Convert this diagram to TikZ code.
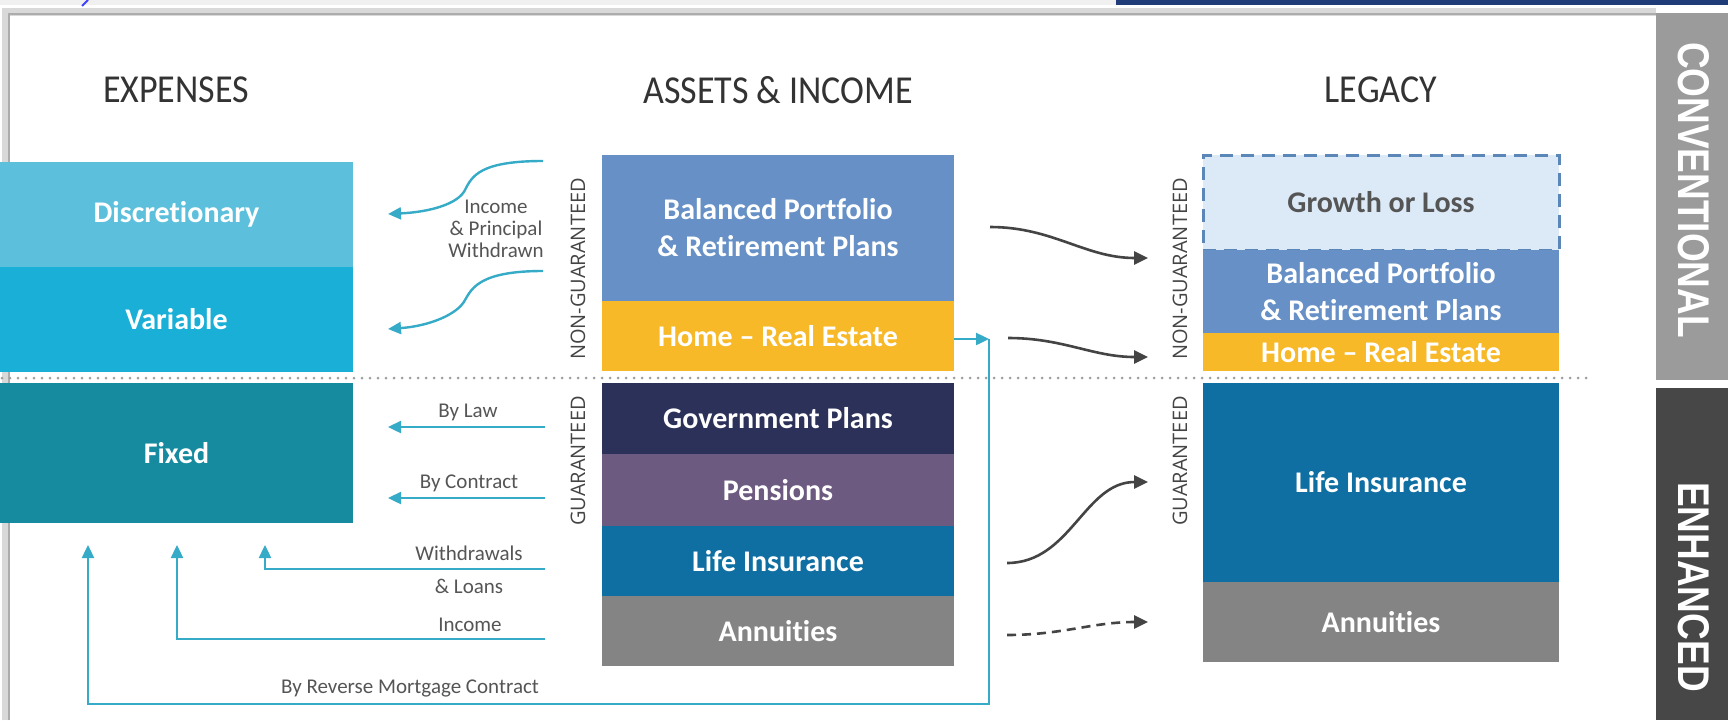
\documentclass[tikz,border=0pt]{standalone}
\usepackage{fontspec}
\setmainfont{Carlito}[Ligatures=NoCommon]
\newfontfamily\vlabfont{Open Sans}
\newfontfamily\tabfont{Liberation Sans}
\usetikzlibrary{arrows.meta}
\definecolor{cDisc}{HTML}{5CC0DC}
\definecolor{cVar}{HTML}{1AAFD7}
\definecolor{cFix}{HTML}{168A9F}
\definecolor{cBal}{HTML}{6690C6}
\definecolor{cHome}{HTML}{F7B928}
\definecolor{cGov}{HTML}{2C3159}
\definecolor{cPen}{HTML}{6D5A80}
\definecolor{cLife}{HTML}{0F6FA2}
\definecolor{cAnn}{HTML}{848484}
\definecolor{cGrow}{HTML}{DCEAF8}
\definecolor{cGrowLine}{HTML}{5B87B8}
\definecolor{cCyan}{HTML}{35ABC8}
\definecolor{cDark}{HTML}{444444}
\definecolor{cHead}{HTML}{333333}
\definecolor{cLab}{HTML}{555555}
\definecolor{cNavy}{HTML}{1F3C78}
\definecolor{cTabA}{HTML}{9B9B9B}
\definecolor{cTabB}{HTML}{474747}
\newcommand\boxfnt{\fontsize{30}{37}\selectfont\bfseries}
\newcommand\headfnt{\fontsize{36}{40}\selectfont}
\newcommand\labfnt{\fontsize{21}{22}\selectfont}
\tikzset{
  blk/.style={anchor=north west, inner sep=0pt, outer sep=0pt, text=white, font=\boxfnt, align=center},
  head/.style={text=cHead, font=\headfnt},
  lab/.style={text=cLab, font=\labfnt, align=center, inner sep=0pt},
  vlab/.style={text=cDark, font=\vlabfont\fontsize{20}{22}\selectfont, rotate=90, inner sep=0pt},
  tabtext/.style={text=white, font=\tabfont\bfseries\fontsize{37}{40}\selectfont, rotate=-90, inner sep=0pt},
  cyarrow/.style={draw=cCyan, line width=2.4pt, -{Triangle[length=13pt,width=12pt]}},
  dkarrow/.style={draw=cDark, line width=2.6pt, -{Triangle[length=14pt,width=13pt]}},
}
\begin{document}
\begin{tikzpicture}[x=1pt,y=-1pt]
\useasboundingbox (0,0) rectangle (1728,720);
\fill[white] (0,0) rectangle (1728,720);
% top strips and frame
\fill[gray!12] (0,0) rectangle (1116,5);
\fill[cNavy] (1116,0) rectangle (1728,5);
\draw[gray!30, line width=8pt] (6,720) -- (6,12) -- (1656,12);
\draw[gray!65, line width=2.5pt] (9,720) -- (9,14) -- (1656,14);
\draw[blue!75, line width=2pt] (82,6) -- (88,0);
% tabs
\fill[cTabA] (1656,13) rectangle (1728,380);
\fill[cTabB] (1656,388) rectangle (1728,720);
\node[tabtext] (tconv) at (1694,190) {\scalebox{1}[1.2]{CONVENTIONAL}};
\node[tabtext] (tenh) at (1694,587) {\scalebox{1}[1.2]{ENHANCED}};
% headers
\node[head] (hexp) at (176,90) {\scalebox{1}[1.1]{EXPENSES}};
\node[head] (hass) at (778,90) {\scalebox{1}[1.1]{ASSETS \& INCOME}};
\node[head] (hleg) at (1381,90) {\scalebox{1}[1.1]{LEGACY}};
% expenses
\node[blk, fill=cDisc, minimum width=353pt, minimum height=105pt] (disc) at (0,162) {Discretionary};
\node[blk, fill=cVar, minimum width=353pt, minimum height=105pt] (var) at (0,267) {Variable};
\node[blk, fill=cFix, minimum width=353pt, minimum height=140pt] (fix) at (0,383) {Fixed};
% assets
\node[blk, fill=cBal, minimum width=352pt, minimum height=146pt] (abal) at (602,155) {Balanced Portfolio\\\& Retirement Plans};
\node[blk, fill=cHome, minimum width=352pt, minimum height=70pt] (ahome) at (602,301) {Home -- Real Estate};
\node[blk, fill=cGov, minimum width=352pt, minimum height=71pt] (agov) at (602,383) {Government Plans};
\node[blk, fill=cPen, minimum width=352pt, minimum height=72pt] (apen) at (602,454) {Pensions};
\node[blk, fill=cLife, minimum width=352pt, minimum height=70pt] (alife) at (602,526) {Life Insurance};
\node[blk, fill=cAnn, minimum width=352pt, minimum height=70pt] (aann) at (602,596) {Annuities};
% legacy
\node[blk, fill=cGrow, draw=cGrowLine, dash pattern=on 13pt off 8pt, line width=3pt, text=cLab, minimum width=356pt, minimum height=95pt] (lgrow) at (1203,155) {Growth or Loss};
\node[blk, fill=cBal, minimum width=356pt, minimum height=83pt] (lbal) at (1203,250) {Balanced Portfolio\\\& Retirement Plans};
\node[blk, fill=cHome, minimum width=356pt, minimum height=38pt] (lhome) at (1203,333) {Home -- Real Estate};
\node[blk, fill=cLife, minimum width=356pt, minimum height=199pt] (llife) at (1203,383) {Life Insurance};
\node[blk, fill=cAnn, minimum width=356pt, minimum height=80pt] (lann) at (1203,582) {Annuities};
% divider
\draw[gray!75, line width=3pt, line cap=round, dash pattern=on 0pt off 8pt] (2,378) -- (1592,378);
% vertical labels
\node[vlab] (vng1) at (578,269) {NON-GUARANTEED};
\node[vlab] (vg1) at (578,461) {GUARANTEED};
\node[vlab] (vng2) at (1180,269) {NON-GUARANTEED};
\node[vlab] (vg2) at (1180,461) {GUARANTEED};
% left connectors
\coordinate (c1s) at (543,161); \coordinate (c1e) at (388,214);
\coordinate (c2s) at (543,271); \coordinate (c2e) at (388,329);
\draw[cyarrow] (c1s) .. controls (480,161) and (472,176) .. (465,190) .. controls (458,204) and (430,212) .. (c1e);
\draw[cyarrow] (c2s) .. controls (480,271) and (472,288) .. (465,300) .. controls (458,314) and (430,326) .. (c2e);
\node[lab] (lincome) at (496,229) {Income\\\& Principal\\Withdrawn};
\coordinate (lawS) at (545,427); \coordinate (lawE) at (388,427);
\draw[cyarrow] (lawS) -- (lawE);
\node[lab] (llaw) at (468,412) {By Law};
\coordinate (conS) at (545,498); \coordinate (conE) at (388,498);
\draw[cyarrow] (conS) -- (conE);
\node[lab] (lcon) at (469,483) {By Contract};
\coordinate (wdS) at (545,569); \coordinate (wdE) at (265,545);
\draw[cyarrow] (wdS) -| (wdE);
\node[lab] (lwd1) at (469,553) {Withdrawals};
\node[lab] (lwd2) at (469,586) {\& Loans};
\coordinate (inS) at (545,639); \coordinate (inE) at (177,545);
\draw[cyarrow] (inS) -| (inE);
\node[lab] (linc) at (470,625) {Income};
\coordinate (rmTop) at (989,339); \coordinate (rmLow) at (88,704); \coordinate (rmE) at (88,545);
\draw[cyarrow] (ahome.east |- rmTop) -- (rmTop);
\draw[cyarrow] (rmTop) |- (rmLow) -- (rmE);
\node[lab] (lrm) at (410,688) {By Reverse Mortgage Contract};
% right connectors
\coordinate (d1s) at (990,227); \coordinate (d1e) at (1148,258);
\coordinate (d2s) at (1008,338); \coordinate (d2e) at (1148,357);
\coordinate (d3s) at (1007,563); \coordinate (d3e) at (1148,482);
\coordinate (d4s) at (1007,635); \coordinate (d4e) at (1148,622);
\draw[dkarrow] (d1s) to[out=0,in=180] (d1e);
\draw[dkarrow] (d2s) to[out=0,in=180] (d2e);
\draw[dkarrow] (d3s) to[out=0,in=180] (d3e);
\draw[dkarrow, dash pattern=on 9pt off 6pt] (d4s) to[out=0,in=180] (d4e);
\end{tikzpicture}
\end{document}
